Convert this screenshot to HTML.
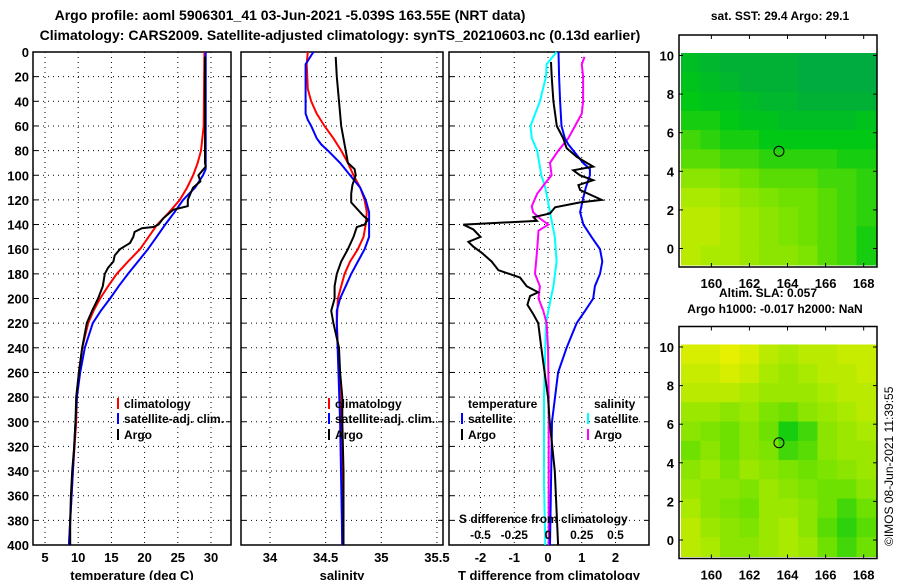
<!DOCTYPE html>
<html><head><meta charset="utf-8">
<style>
html,body{margin:0;padding:0;background:#fff;}
svg{display:block;font-family:"Liberation Sans",Arial,sans-serif;font-weight:bold;}
</style></head>
<body>
<svg id="c" width="900" height="580" viewBox="0 0 900 580" xmlns="http://www.w3.org/2000/svg">
<text x="290" y="20" font-size="14" text-anchor="middle">Argo profile: aoml 5906301_41 03-Jun-2021 -5.039S 163.55E (NRT data)</text>
<text x="340" y="40" font-size="14" text-anchor="middle">Climatology: CARS2009. Satellite-adjusted climatology: synTS_20210603.nc (0.13d earlier)</text>
<text x="780" y="20" font-size="12" text-anchor="middle">sat. SST: 29.4 Argo: 29.1</text>
<text x="768" y="297" font-size="12" text-anchor="middle">Altim. SLA: 0.057</text>
<text x="775" y="313" font-size="12" text-anchor="middle">Argo h1000: -0.017 h2000: NaN</text>
<text transform="translate(893,546) rotate(-90)" font-size="12" font-weight="normal">©IMOS 08-Jun-2021 11:39:55</text>
</svg>
<script>
// ---------- data ----------
const depthTicks = [0,20,40,60,80,100,120,140,160,180,200,220,240,260,280,300,320,340,360,380,400];
const tempTicks = [5,10,15,20,25,30];
const salTicks = [34,34.5,35,35.5];
const salTickLabels = ["34","34.5","35","35.5"];
const dTTicks = [-2,-1,0,1,2];
const dSTicks = [-0.5,-0.25,0,0.25,0.5];
const dSTickLabels = ["-0.5","-0.25","0","0.25","0.5"];

const climTDepth = [0,60,80,90,100,110,120,130,140,150,160,170,180,190,200,210,220,240,260,280,300,340,400];
const climT      = [29.0,28.9,28.5,28.0,27.3,26.4,25.3,23.7,21.9,20.6,19.3,17.5,15.8,14.5,13.3,12.3,11.5,10.6,10.1,9.8,9.7,9.2,8.6];
const satTDepth = [0,95,100,110,120,130,140,150,160,170,180,190,200,210,220,240,260,280,300,340,400];
const satT      = [29.2,29.2,28.8,27.6,25.8,24.5,23.1,21.8,20.5,19.0,17.5,16.1,14.8,13.4,12.2,11.0,10.3,9.8,9.6,9.2,8.6];
const argoTDepth = [4,90,93,100,105,110,115,120,125,128,135,140,142,143,146,150,155,160,165,170,175,180,190,200,210,220,240,260,280,300,320,340,360,380,400];
const argoT      = [29.1,29.1,29.2,28.1,28.4,27.3,26.9,26.5,26.5,24.3,22.8,22.1,21.3,19.6,18.5,18.3,17.8,16.3,15.5,15.3,14.5,14.0,13.7,13.0,12.1,11.3,10.6,10.1,9.7,9.6,9.4,9.1,8.9,8.8,8.8];

const climSDepth = [0,10,30,40,50,60,70,80,90,100,110,120,130,140,150,160,170,180,190,200,220,260,300,400];
const climS      = [34.34,34.33,34.34,34.37,34.42,34.49,34.57,34.64,34.70,34.75,34.81,34.85,34.87,34.86,34.84,34.79,34.72,34.67,34.64,34.61,34.60,34.62,34.64,34.65];
const satSDepth = [0,10,50,55,60,70,75,80,90,100,110,120,130,140,150,160,170,180,190,200,210,220,300,400];
const satS      = [34.39,34.32,34.32,34.34,34.37,34.42,34.46,34.52,34.63,34.72,34.81,34.86,34.89,34.89,34.89,34.85,34.79,34.73,34.68,34.63,34.60,34.60,34.63,34.65];
const argoSDepth = [4,20,40,60,80,90,95,100,108,115,122,128,133,136,140,142,150,160,170,180,190,200,210,220,240,260,280,300,340,400];
const argoS      = [34.59,34.60,34.62,34.64,34.68,34.70,34.76,34.77,34.74,34.73,34.73,34.79,34.84,34.88,34.85,34.78,34.75,34.70,34.64,34.60,34.58,34.58,34.55,34.57,34.62,34.63,34.65,34.65,34.66,34.66];

const satDTDepth = [0,20,40,60,70,75,80,90,95,100,110,120,130,140,150,160,170,180,190,200,210,220,230,240,260,300,400];
const satDT      = [0.31,0.33,0.36,0.40,0.50,0.60,0.75,1.04,1.24,1.24,1.12,1.03,0.95,1.05,1.29,1.54,1.61,1.54,1.39,1.34,1.10,0.85,0.70,0.55,0.30,0.12,0.06];
const argoDTDepth = [8,20,40,60,70,78,85,90,93,96,100,104,108,112,120,122,126,131,134,137,140,144,150,154,158,163,170,177,183,190,195,198,205,213,220,240,260,280,300,340,400];
const argoDT      = [0.09,0.11,0.16,0.26,0.45,0.55,0.85,1.15,1.34,0.75,0.95,1.34,0.90,0.95,1.59,0.95,0.21,0.06,-0.43,-0.33,-2.51,-2.21,-2.0,-2.36,-2.21,-1.96,-1.67,-1.47,-0.83,-0.63,-0.29,-0.53,-0.61,-0.43,-0.29,-0.2,-0.1,0.0,0.05,0.2,0.3];
const satDSDepth = [0,10,20,40,60,70,80,100,110,130,150,170,190,210,220,240,280,350,400];
const satDS      = [0.064,-0.01,-0.015,-0.06,-0.13,-0.12,-0.08,-0.05,-0.02,0.015,0.05,0.064,0.04,0.002,-0.015,-0.02,-0.03,-0.03,-0.02];
const argoDSDepth = [4,10,20,40,50,60,70,80,90,100,105,115,125,130,135,140,145,160,180,190,200,210,220,240,280,400];
const argoDS      = [0.27,0.25,0.26,0.26,0.25,0.20,0.15,0.076,0.015,0.027,-0.01,-0.08,-0.12,-0.11,-0.06,0.002,-0.07,-0.08,-0.096,-0.06,-0.07,-0.035,-0.01,0.0,0.005,0.005];

const lonTicks = [160,162,164,166,168];
const latTicks = [0,2,4,6,8,10];
const sstGrid = [
[0.25,0.2,0.15,0.15,0.15,0.15,0.1,0.1,0.1,0.1],
[0.3,0.25,0.2,0.15,0.15,0.15,0.1,0.1,0.1,0.1],
[0.35,0.3,0.3,0.25,0.2,0.2,0.15,0.15,0.15,0.15],
[0.4,0.4,0.35,0.3,0.3,0.25,0.25,0.25,0.25,0.3],
[0.5,0.45,0.4,0.4,0.35,0.35,0.35,0.35,0.35,0.35],
[0.55,0.55,0.5,0.5,0.45,0.45,0.45,0.45,0.4,0.4],
[0.7,0.7,0.65,0.6,0.55,0.55,0.55,0.5,0.5,0.45],
[0.8,0.8,0.75,0.7,0.65,0.6,0.6,0.55,0.5,0.45],
[0.85,0.85,0.8,0.75,0.7,0.65,0.6,0.55,0.5,0.45],
[0.85,0.85,0.8,0.75,0.7,0.65,0.6,0.55,0.5,0.4],
[0.85,0.8,0.8,0.75,0.7,0.7,0.65,0.55,0.5,0.4]];
const slaGrid = [
[0.95,0.95,1.0,0.95,0.85,0.8,0.85,0.85,0.9,0.9],
[0.9,0.9,0.95,0.9,0.8,0.75,0.8,0.85,0.85,0.9],
[0.85,0.85,0.85,0.8,0.75,0.75,0.75,0.8,0.85,0.85],
[0.75,0.75,0.7,0.75,0.65,0.6,0.7,0.75,0.8,0.85],
[0.7,0.65,0.6,0.7,0.6,0.4,0.5,0.7,0.75,0.8],
[0.6,0.7,0.6,0.7,0.65,0.5,0.55,0.7,0.75,0.75],
[0.7,0.75,0.65,0.75,0.7,0.65,0.6,0.65,0.7,0.75],
[0.75,0.7,0.7,0.65,0.75,0.7,0.65,0.6,0.6,0.7],
[0.8,0.7,0.65,0.6,0.75,0.75,0.7,0.6,0.5,0.6],
[0.85,0.75,0.7,0.65,0.75,0.8,0.7,0.55,0.45,0.55],
[0.85,0.8,0.7,0.7,0.75,0.8,0.75,0.6,0.5,0.6]];
const floatLon = 163.55, floatLat = 5.039;

// ---------- helpers ----------
const NS = "http://www.w3.org/2000/svg";
const svg = document.getElementById('c');
function mk(tag, attrs, parent){ const e=document.createElementNS(NS,tag); for(const k in attrs) e.setAttribute(k,attrs[k]); (parent||svg).appendChild(e); return e; }
function txt(s, attrs, parent){ const e=mk('text',attrs,parent); e.textContent=s; return e; }

const TOP=52, BOT=545;
const yD = d => TOP + d*(BOT-TOP)/400;
const xT = t => 45 + (t-5)*6.64;
const xS = s => 270 + (s-34)*111.3;
const xDT = v => 548 + v*33.75;
const xDS = v => 548 + v*135;

const panels = [
 {name:'temperature-panel', x0:33, x1:231, ticks:tempTicks, labels:tempTicks.map(String), fx:xT, title:'temperature (deg C)'},
 {name:'salinity-panel', x0:241, x1:443, ticks:salTicks, labels:salTickLabels, fx:xS, title:'salinity'},
 {name:'difference-panel', x0:449, x1:649, ticks:dTTicks, labels:dTTicks.map(String), fx:xDT, title:'T difference from climatology'}
];

panels.forEach((p,pi)=>{
  const g = mk('g',{});
  
  
  depthTicks.forEach(d=>{
    if(d===0||d===400) return;
    const l=mk('line',{x1:p.x0,x2:p.x1,y1:yD(d),y2:yD(d),stroke:'#000','stroke-width':1,'stroke-dasharray':'1,4'},g);
    
    
    const t1=mk('line',{x1:p.x0,x2:p.x0+5,y1:yD(d),y2:yD(d),stroke:'#000'},g);
    
    
    const t2=mk('line',{x1:p.x1-5,x2:p.x1,y1:yD(d),y2:yD(d),stroke:'#000'},g);
    
    
  });
  p.ticks.forEach((t,i)=>{
    const x=p.fx(t);
    if(x>p.x0+1 && x<p.x1-1){
      const l=mk('line',{x1:x,x2:x,y1:TOP,y2:BOT,stroke:'#000','stroke-width':1,'stroke-dasharray':'1,4'},g);
      
      
    }
    const lb=txt(p.labels[i],{x:x,y:562,'font-size':13,'text-anchor':'middle'},g);
    
    
  });
  const tt=txt(p.title,{x:(p.x0+p.x1)/2,y:580,'font-size':13,'text-anchor':'middle'},g);
  
  
  const fr=mk('rect',{x:p.x0,y:TOP,width:p.x1-p.x0,height:BOT-TOP,fill:'none',stroke:'#000','stroke-width':1.5},g);
  
  
});
depthTicks.forEach(d=>{
  const t=txt(String(d),{x:29,y:yD(d)+5,'font-size':13,'text-anchor':'end'});
  
  
});

function series(depths, vals, fx, color, name, w){
  const pts = depths.map((d,i)=>fx(vals[i]).toFixed(1)+','+yD(d).toFixed(1)).join(' ');
  const pl=mk('polyline',{points:pts,fill:'none',stroke:color,'stroke-width':w||2,'stroke-linejoin':'miter'});
  
  
}
series(climTDepth, climT, xT, '#ff0000', 'climatology-temperature-line');
series(satTDepth, satT, xT, '#0000ff', 'satellite-temperature-line');
series(argoTDepth, argoT, xT, '#000000', 'argo-temperature-line');
series(climSDepth, climS, xS, '#ff0000', 'climatology-salinity-line');
series(satSDepth, satS, xS, '#0000ff', 'satellite-salinity-line');
series(argoSDepth, argoS, xS, '#000000', 'argo-salinity-line');
series(satDSDepth, satDS, xDS, '#00ffff', 'satellite-salinity-diff-line');
series(argoDSDepth, argoDS, xDS, '#ff00ff', 'argo-salinity-diff-line');
series(satDTDepth, satDT, xDT, '#0000ff', 'satellite-temperature-diff-line');
series(argoDTDepth, argoDT, xDT, '#000000', 'argo-temperature-diff-line');

function legend(x, y, color, label){
  const m=mk('line',{x1:x,x2:x,y1:y-6,y2:y+5,stroke:color,'stroke-width':2});
  
  
  const t=txt(label,{x:x+6,y:y+4,'font-size':12});
  
  
}
legend(118,404,'#ff0000','climatology'); legend(118,419,'#0000ff','satellite-adj. clim.'); legend(118,435,'#000000','Argo');
legend(329,404,'#ff0000','climatology'); legend(329,419,'#0000ff','satellite-adj. clim.'); legend(329,435,'#000000','Argo');
[['temperature',468],['salinity',594]].forEach(a=>{
  const t=txt(a[0],{x:a[1],y:408,'font-size':12});
  
  
});
legend(462,419,'#0000ff','satellite'); legend(462,435,'#000000','Argo');
legend(588,419,'#00ffff','satellite'); legend(588,435,'#ff00ff','Argo');
const sdt=txt('S difference from climatology',{x:459,y:523,'font-size':12});


dSTicks.forEach((v,i)=>{
  const t=txt(dSTickLabels[i],{x:xDS(v),y:539,'font-size':12,'text-anchor':'middle'});
  
  
});

// ---------- maps ----------
const stops=[[0,[0,160,80]],[0.35,[0,200,20]],[0.6,[110,225,0]],[1,[230,240,0]]];
function cmap(v){
  for(let i=1;i<stops.length;i++){
    if(v<=stops[i][0]){
      const a=stops[i-1],b=stops[i],f=(v-a[0])/(b[0]-a[0]);
      return 'rgb('+a[1].map((c,k)=>Math.round(c+(b[1][k]-c)*f)).join(',')+')';
    }
  }
  return 'rgb(230,240,0)';
}
function drawMap(grid, oy, name){
  const g=mk('g',{});
  
  
  const X0=679,X1=877, lon0=158.3, lon1=168.7;
  const xL = lon => X0 + (lon-lon0)*(X1-X0)/(lon1-lon0);
  const yL = lat => oy + 55.5 + (10-lat)*19.3;
  const frameTop=oy+35, frameBot=oy+267;
  const dTop=yL(10.13), dBot=yL(-0.85);
  const rows=grid.length, cols=grid[0].length;
  const cw=(X1-X0-3)/cols, ch=(dBot-dTop)/rows;
  grid.forEach((row,r)=>row.forEach((v,c)=>{
    const rc=mk('rect',{x:(X0+2+c*cw).toFixed(2),y:(dTop+r*ch).toFixed(2),width:(cw+0.6).toFixed(2),height:(ch+0.6).toFixed(2),fill:cmap(v)},g);
    
    
  }));
  const ci=mk('circle',{cx:xL(floatLon),cy:yL(floatLat),r:5,fill:'none',stroke:'#000','stroke-width':1},g);
  
  
  const fr=mk('rect',{x:X0,y:frameTop,width:X1-X0,height:frameBot-frameTop,fill:'none',stroke:'#000','stroke-width':1.5},g);
  
  
  lonTicks.forEach(lon=>{
    const x=xL(lon);
    mk('line',{x1:x,x2:x,y1:frameTop,y2:frameTop+4,stroke:'#000'},g);
    mk('line',{x1:x,x2:x,y1:frameBot-4,y2:frameBot,stroke:'#000'},g);
    const t=txt(String(lon),{x:x,y:frameBot+21,'font-size':13,'text-anchor':'middle'},g);
    
    
  });
  latTicks.forEach(lat=>{
    const y=yL(lat);
    mk('line',{x1:X0,x2:X0+4,y1:y,y2:y,stroke:'#000'},g);
    mk('line',{x1:X1-4,x2:X1,y1:y,y2:y,stroke:'#000'},g);
    const t=txt(String(lat),{x:674,y:y+5,'font-size':13,'text-anchor':'end'},g);
    
    
  });
}
drawMap(sstGrid, 0, 'sst-map');
drawMap(slaGrid, 291.5, 'sla-map');
</script>
</body></html>
